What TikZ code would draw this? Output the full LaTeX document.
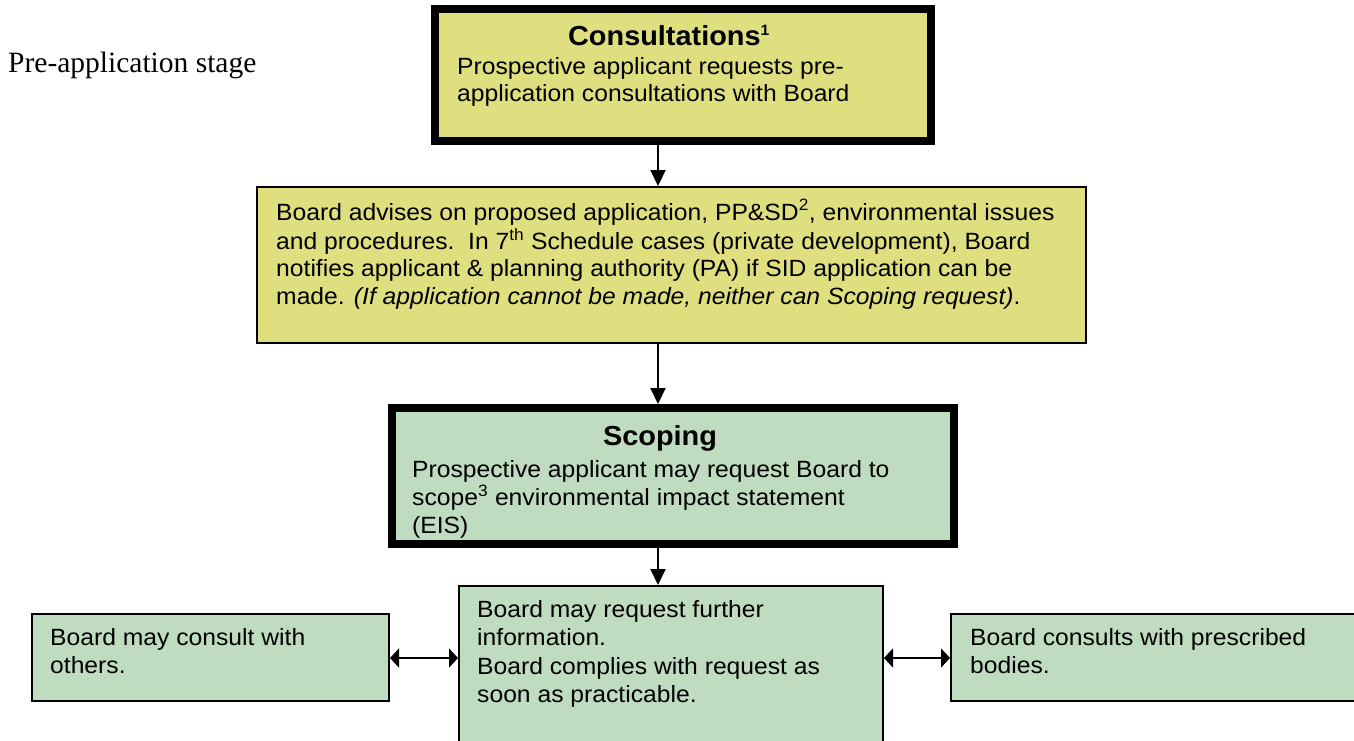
\documentclass[tikz,border=0pt]{standalone}
\usepackage{fontspec}
\setmainfont{Liberation Sans}[FakeStretch=1.05]
\newfontfamily\serifbody{Liberation Serif}
\usetikzlibrary{arrows.meta}
\definecolor{boxyellow}{RGB}{223,223,128}
\definecolor{boxgreen}{RGB}{192,220,192}
\newcommand{\mylines}[1]{\begin{tabular}[t]{@{}l@{}}#1\end{tabular}}
\tikzset{
  thickbox/.style={draw=black, line width=8pt, inner sep=0pt},
  thinbox/.style={draw=black, line width=2pt, inner sep=0pt},
  bodytext/.style={inner sep=0pt, anchor=base west, font=\fontsize{23.5}{27.5}\selectfont},
  lowtext/.style={inner sep=0pt, anchor=base west, font=\fontsize{23.5}{28.5}\selectfont},
  titletext/.style={inner sep=0pt, anchor=base, font=\fontsize{27.5}{30}\selectfont\bfseries},
  arr/.style={line width=2pt, -{Triangle[length=16pt,width=15pt]}},
  darr/.style={line width=2pt, {Triangle[length=9pt,width=19pt]}-{Triangle[length=9pt,width=19pt]}}
}
\begin{document}
\begin{tikzpicture}[x=1pt,y=-1pt]
\useasboundingbox (0,0) rectangle (1354,740);
\fill[white] (0,0) rectangle (1354,740);
% boxes
\node[thickbox, fill=boxyellow, minimum width=496pt, minimum height=132pt] (cons) at (683,75) {};
\node[thinbox, fill=boxyellow, minimum width=829pt, minimum height=156pt] (adv) at (671.5,265) {};
\node[thickbox, fill=boxgreen, minimum width=562pt, minimum height=136pt] (scop) at (673,476) {};
\node[thinbox, fill=boxgreen, minimum width=424pt, minimum height=180pt] (req) at (671,676) {};
\node[thinbox, fill=boxgreen, minimum width=357pt, minimum height=87pt] (oth) at (210.5,657.5) {};
\node[thinbox, fill=boxgreen, minimum width=420pt, minimum height=87pt] (pres) at (1161,657.5) {};
% texts
\node[inner sep=0pt, anchor=base west, font=\fontsize{29.5}{32}\serifbody] (stage) at (8,72) {Pre-application stage};
\node[titletext] (constitle) at (669,45) {Consultations\textsuperscript{\fontsize{15}{15}\selectfont 1}};
\node[bodytext] (constext) at (457,74) {\mylines{Prospective applicant requests pre-\\application consultations with Board}};
\node[bodytext] (advtext) at (276,220) {\mylines{Board advises on proposed application, PP\&SD\textsuperscript{2}, environmental issues\\and procedures.\ \ In 7\textsuperscript{th} Schedule cases (private development), Board\\notifies applicant \& planning authority (PA) if SID application can be\\made. \textit{(If application cannot be made, neither can Scoping request)}.}};
\node[titletext] (scoptitle) at (660,445) {Scoping};
\node[bodytext] (scoptext) at (412,477) {\mylines{Prospective applicant may request Board to\\scope\textsuperscript{3} environmental impact statement\\(EIS)}};
\node[lowtext] (reqtext) at (477,617) {\mylines{Board may request further\\information.\\Board complies with request as\\soon as practicable.}};
\node[lowtext] (othtext) at (50,645) {\mylines{Board may consult with\\others.}};
\node[lowtext] (prestext) at (970,645) {\mylines{Board consults with prescribed\\bodies.}};
% connectors
\coordinate (ax) at (658,0);
\coordinate (ay) at (0,658);
\draw[arr] (cons.south -| ax) -- (adv.north -| ax);
\draw[arr] (adv.south -| ax) -- (scop.north -| ax);
\draw[arr] (scop.south -| ax) -- (req.north -| ax);
\draw[darr] (oth.east |- ay) -- (req.west |- ay);
\draw[darr] (req.east |- ay) -- (pres.west |- ay);
\end{tikzpicture}
\end{document}
